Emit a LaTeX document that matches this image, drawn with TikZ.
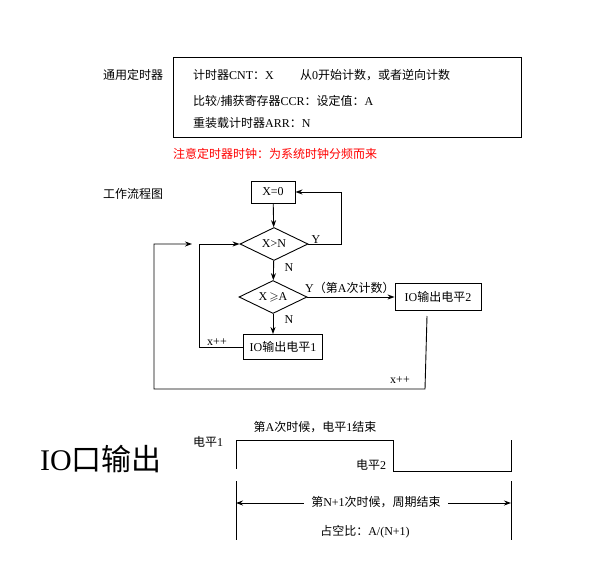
\documentclass[tikz,border=0pt]{standalone}
\usepackage{amssymb}
\usepackage{fontspec}
\setmainfont{Liberation Serif}
\newfontfamily\cjk{Noto Sans CJK SC}
\usetikzlibrary{shapes.geometric,arrows.meta}
\newcommand\zh[1]{{\cjk #1}}
\begin{document}
\begin{tikzpicture}[x=1pt,y=-1pt,
  every node/.style={font=\fontsize{12}{14}\selectfont, inner sep=0pt},
  ln/.style={line width=0.9pt},
  arr/.style={ln,-{Stealth[length=7pt,width=5pt]}},
  dbl/.style={ln,{Stealth[length=7pt,width=5pt]}-{Stealth[length=7pt,width=5pt]}},
  procbox/.style={draw,line width=0.9pt},
  decision/.style={diamond,draw,line width=0.9pt,aspect=2,minimum width=68pt,minimum height=33pt}]
\useasboundingbox (0,0) rectangle (593,583);

% ---- top section
\node[anchor=west] (lbl1) at (103,75) {\zh{通用定时器}};
\node[procbox, anchor=north west, minimum width=348pt, minimum height=80pt] (regbox) at (173,57) {};
\node[anchor=west] (cnt) at (193,75) {\zh{计时器}CNT\zh{：}X};
\node[anchor=west] (cnt2) at (300,75) {\zh{从}0\zh{开始计数，或者逆向计数}};
\node[anchor=west] (ccr) at (193,101) {\zh{比较}/\zh{捕获寄存器}CCR\zh{：设定值：}A};
\node[anchor=west] (arr) at (193,123) {\zh{重装载计时器}ARR\zh{：}N};
\node[anchor=west, text=red] (note) at (173,154) {\zh{注意定时器时钟：为系统时钟分频而来}};

% ---- flowchart
\node[anchor=west] (lbl2) at (103,194) {\zh{工作流程图}};
\node[procbox, minimum width=44pt, minimum height=22pt] (x0) at (273,192) {X=0};
\node[decision] (d1) at (274,244) {X>N};
\node[decision] (d2) at (273,297) {X\,$\geqslant$A};
\node[procbox, minimum width=86pt, minimum height=27pt] (io2) at (438,297) {IO\zh{输出电平}2};
\node[procbox, minimum width=79pt, minimum height=25pt] (io1) at (283,347) {IO\zh{输出电平}1};

\draw[arr] (x0) -- (d1);
\draw[arr] (d1.east) -- ++(33,0) |- (x0.east);
\draw[arr] (d1) -- (d2);
\draw[arr] (d2.east) -- (io2.west);
\draw[arr] (d2.south) -- (d2.south |- io1.north);
\draw[arr] (io1.west) -- ++(-44,0) |- (d1.west);
\coordinate (l2a) at (427,316);
\coordinate (l2b) at (425,389);
\coordinate (l2c) at (154,389);
\coordinate (l2d) at (192,244);
\draw[arr] (l2a) -- (l2b) -- (l2c) |- (l2d);

\node (ly1) at (316,240) {Y};
\node (ln1) at (289,268) {N};
\node[anchor=west] (ly2) at (305,288) {Y\zh{（第}A\zh{次计数）}};
\node (ln2) at (289,320) {N};
\node (xpp1) at (217,342) {x++};
\node (xpp2) at (400,380) {x++};

% ---- IO output waveform
\node[font=\fontsize{30}{34}\selectfont, anchor=west] (io) at (40,459) {IO\zh{口输出}};
\node (lv1) at (208,442) {\zh{电平}1};
\node (lv2) at (371,465) {\zh{电平}2};
\node (endA) at (315,427) {\zh{第}A\zh{次时候，电平}1\zh{结束}};
\coordinate (w0) at (236,469);
\coordinate (w1) at (236,440);
\coordinate (w2) at (393,440);
\coordinate (w3) at (393,471);
\coordinate (w4) at (511,471);
\coordinate (w5) at (511,440);
\draw[ln] (w0) -- (w1) -- (w2) -- (w3) -- (w4) -- (w5);
\coordinate (t1a) at (236,481);
\coordinate (t1b) at (236,540);
\coordinate (t2a) at (511,481);
\coordinate (t2b) at (511,540);
\draw[ln] (t1a) -- (t1b);
\draw[ln] (t2a) -- (t2b);
\coordinate (p1) at (236,503);
\coordinate (p2) at (511,503);
\draw[dbl] (p1) -- (p2);
\node[fill=white, inner xsep=7pt, inner ysep=2pt] (period) at (376,502) {\zh{第}N+1\zh{次时候，周期结束}};
\node (duty) at (365,532) {\zh{占空比：}A/(N+1)};
\end{tikzpicture}
\end{document}
